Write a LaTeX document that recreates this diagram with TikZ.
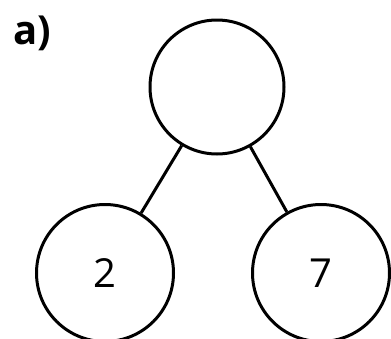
\documentclass[tikz,border=0pt]{standalone}
\usepackage{fontspec}
\setmainfont{Open Sans}
\begin{document}
\begin{tikzpicture}[x=1pt,y=-1pt,
  bubble/.style={circle,draw=black,line width=3pt,inner sep=0pt,minimum size=#1,font=\fontsize{40}{42}\selectfont},
  link/.style={draw=black,line width=3pt}]
\useasboundingbox (0,0) rectangle (391,338);
\node[anchor=center,font=\fontsize{40}{42}\selectfont\bfseries] (lab) at (32,33) {a)};
\node[bubble=134pt] (top) at (217,87) {};
\node[bubble=137pt] (left) at (105,273) {2};
\node[bubble=137pt] (right) at (321,273) {7};
\path[link] (top) -- (left);
\path[link] (top) -- (right);
\end{tikzpicture}
\end{document}
